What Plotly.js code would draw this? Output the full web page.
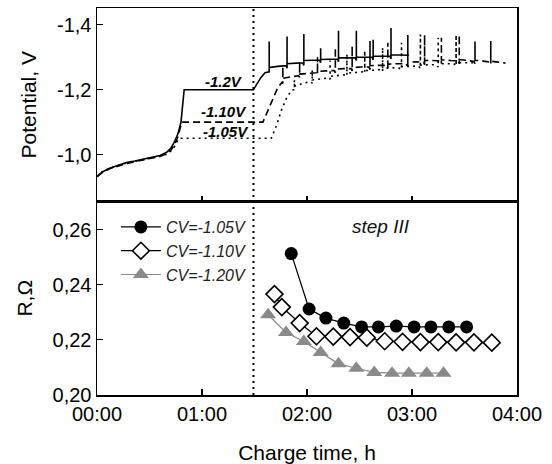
<!DOCTYPE html>
<html>
<head>
<meta charset="utf-8">
<script src="https://cdn.plot.ly/plotly-3.0.1.min.js"></script>
<style>html,body{margin:0;padding:0;background:#fff;}#chart{width:552px;height:464px;}</style>
</head>
<body>
<div id="chart"></div>
<script>
// ---- Top panel: potential (V) vs charge time (h) ----
const potT_120 = [0,0.05,0.12,0.2,0.28,0.36,0.44,0.52,0.6,0.66,0.7,0.73,0.77,0.8,0.815,0.83,1.49,1.52,1.56,1.6,
  1.64,1.64,1.64,1.72,1.8, 1.81,1.81,1.81,1.9,1.96, 1.97,1.97,1.97,2.06,2.12, 2.13,2.13,2.13,2.22,2.29,
  2.3,2.3,2.3,2.39,2.46, 2.47,2.47,2.47,2.56,2.62, 2.63,2.63,2.63,2.72,2.79, 2.8,2.8,2.8,2.88,2.97];
const potV_120 = [-0.932,-0.946,-0.958,-0.967,-0.975,-0.98,-0.985,-0.99,-0.997,-1.006,-1.018,-1.034,-1.063,-1.1,-1.15,-1.2,-1.2,-1.215,-1.237,-1.252,
  -1.255,-1.349,-1.268,-1.272,-1.274, -1.266,-1.364,-1.28,-1.282,-1.283, -1.275,-1.372,-1.29,-1.291,-1.291, -1.283,-1.328,-1.293,-1.294,-1.294,
  -1.286,-1.382,-1.298,-1.298,-1.298, -1.29,-1.382,-1.3,-1.3,-1.3, -1.292,-1.354,-1.303,-1.303,-1.303, -1.295,-1.39,-1.307,-1.307,-1.306];

const potT_110 = [0,0.05,0.12,0.2,0.28,0.36,0.44,0.52,0.6,0.66,0.7,0.74,0.77,0.795,0.81,1.58,1.63,1.68,1.72,1.76,
  1.77,1.77,1.77,1.85,1.92, 1.93,1.93,1.93,2.01,2.09, 2.1,2.1,2.1,2.18,2.26, 2.27,2.27,2.27,2.35,2.42,
  2.43,2.43,2.43,2.51,2.59, 2.6,2.6,2.6,2.68,2.76, 2.77,2.77,2.77,2.85,2.94, 2.96,2.96,2.96,3.04,3.11,
  3.12,3.12,3.12,3.2,3.27, 3.28,3.28,3.28,3.37,3.44, 3.45,3.45,3.45,3.53,3.59, 3.6,3.6,3.6,3.68,3.74,
  3.75,3.75,3.75,3.82,3.89];
const potV_110 = [-0.932,-0.944,-0.956,-0.965,-0.972,-0.978,-0.983,-0.988,-0.994,-1.002,-1.012,-1.03,-1.055,-1.085,-1.1,-1.1,-1.135,-1.175,-1.205,-1.222,
  -1.22,-1.27,-1.235,-1.24,-1.243, -1.238,-1.285,-1.248,-1.25,-1.252, -1.245,-1.3,-1.256,-1.258,-1.259, -1.252,-1.33,-1.263,-1.265,-1.265,
  -1.258,-1.335,-1.268,-1.27,-1.27, -1.262,-1.35,-1.274,-1.275,-1.275, -1.267,-1.345,-1.279,-1.28,-1.28, -1.272,-1.369,-1.285,-1.286,-1.285,
  -1.277,-1.369,-1.29,-1.29,-1.288, -1.28,-1.36,-1.292,-1.29,-1.289, -1.28,-1.369,-1.293,-1.29,-1.287, -1.28,-1.349,-1.291,-1.288,-1.285,
  -1.278,-1.35,-1.288,-1.285,-1.282];

const potT_105 = [0,0.05,0.12,0.2,0.28,0.36,0.44,0.52,0.6,0.66,0.7,0.74,0.77,0.785,1.66,1.71,1.76,1.81,1.86,
  1.88,1.88,1.88,1.95,2.03, 2.05,2.05,2.05,2.13,2.2, 2.22,2.22,2.22,2.3,2.37, 2.38,2.38,2.38,2.46,2.53,
  2.55,2.55,2.55,2.63,2.7, 2.72,2.72,2.72,2.8,2.87, 2.9,2.9,2.9,2.98,3.06, 3.08,3.08,3.08,3.16,3.23,
  3.25,3.25,3.25,3.33,3.4, 3.42,3.42,3.42,3.5,3.6];
const potV_105 = [-0.932,-0.946,-0.958,-0.966,-0.974,-0.979,-0.984,-0.989,-0.995,-1.0,-1.01,-1.025,-1.045,-1.05,-1.05,-1.09,-1.14,-1.178,-1.2,
  -1.2,-1.23,-1.21,-1.218,-1.225, -1.22,-1.26,-1.23,-1.233,-1.236, -1.232,-1.29,-1.241,-1.244,-1.246, -1.242,-1.31,-1.251,-1.253,-1.255,
  -1.25,-1.32,-1.259,-1.26,-1.262, -1.256,-1.33,-1.266,-1.267,-1.268, -1.262,-1.345,-1.271,-1.272,-1.273, -1.266,-1.37,-1.276,-1.277,-1.277,
  -1.27,-1.36,-1.28,-1.28,-1.28, -1.272,-1.369,-1.283,-1.283,-1.283];

// ---- Bottom panel: resistance (Ohm) vs charge time (h) ----
const resT_105 = [1.85,2.02,2.18,2.35,2.52,2.68,2.85,3.02,3.18,3.35,3.52];
const res_105  = [0.2513,0.2312,0.2279,0.2261,0.2247,0.2247,0.2250,0.2247,0.2247,0.2247,0.2247];
const resT_110 = [1.69,1.76,1.93,2.09,2.25,2.41,2.57,2.74,2.91,3.08,3.25,3.42,3.59,3.76];
const res_110  = [0.2366,0.2319,0.2261,0.2213,0.2212,0.2210,0.2208,0.2195,0.2193,0.2192,0.2192,0.2191,0.2191,0.2190];
const resT_120 = [1.63,1.80,1.97,2.13,2.30,2.47,2.64,2.81,2.97,3.14,3.30];
const res_120  = [0.2291,0.2227,0.2194,0.2154,0.2113,0.2097,0.2082,0.2079,0.2079,0.2079,0.2079];

const seriesNames = ['<i>CV=-1.05V</i>','<i>CV=-1.10V</i>','<i>CV=-1.20V</i>'];
const curveLabels = ['<b><i>-1.2V</i></b>','<b><i>-1.10V</i></b>','<b><i>-1.05V</i></b>'];

const xTickVals = [0,1,2,3,4];
const xTickText = ['00:00','01:00','02:00','03:00','04:00'];
const topTickVals = [-1.0,-1.2,-1.4];
const topTickText = ['-1,0','-1,2','-1,4'];
const botTickVals = [0.20,0.22,0.24,0.26];
const botTickText = ['0,20','0,22','0,24','0,26'];
const stepTime = 1.49;

const FONT = 'Liberation Sans, Arial, Helvetica, sans-serif';
const grey = '#8a8a8a';

const traces = [
  {x: potT_120, y: potV_120, xaxis:'x2', yaxis:'y2', mode:'lines', line:{color:'#000', width:1.6}, showlegend:false, hoverinfo:'skip'},
  {x: potT_110, y: potV_110, xaxis:'x2', yaxis:'y2', mode:'lines', line:{color:'#000', width:1.6, dash:'7px,4px'}, showlegend:false, hoverinfo:'skip'},
  {x: potT_105, y: potV_105, xaxis:'x2', yaxis:'y2', mode:'lines', line:{color:'#000', width:1.6, dash:'2px,4px'}, showlegend:false, hoverinfo:'skip'},
  {x: resT_105, y: res_105, xaxis:'x', yaxis:'y', mode:'lines+markers', name: seriesNames[0],
   line:{color:'#000', width:1.2}, marker:{symbol:'circle', size:13, color:'#000'}},
  {x: resT_110, y: res_110, xaxis:'x', yaxis:'y', mode:'lines+markers', name: seriesNames[1],
   line:{color:'#000', width:1.2}, marker:{symbol:'diamond', size:13, color:'#fff', line:{color:'#000', width:1.6}}},
  {x: resT_120, y: res_120, xaxis:'x', yaxis:'y', mode:'lines+markers', name: seriesNames[2],
   line:{color:grey, width:1.2}, marker:{symbol:'triangle-up', size:14, color:grey}}
];

const axCommon = {
  showline:true, linecolor:'#000', linewidth:1.5, mirror:true,
  ticks:'inside', ticklen:6, tickwidth:1.2, tickcolor:'#000',
  showgrid:false, zeroline:false,
  tickfont:{family:FONT, size:20, color:'#000'}
};

const layout = {
  width:552, height:464,
  margin:{l:97, r:35, t:8, b:69},
  paper_bgcolor:'#fff', plot_bgcolor:'#fff',
  font:{family:FONT, color:'#000'},
  showlegend:true,
  legend:{x:0.045, y:0.478, xref:'paper', yref:'paper', xanchor:'left', yanchor:'top',
          bgcolor:'rgba(0,0,0,0)', font:{family:FONT, size:16, color:'#222'}, tracegroupgap:0, itemwidth:40},
  xaxis: Object.assign({}, axCommon, {domain:[0,1], anchor:'y', range:[0,4], tickmode:'array', tickvals:xTickVals, ticktext:xTickText,
          title:{text:'Charge time, h', font:{family:FONT, size:21, color:'#000'}, standoff:24}}),
  yaxis: Object.assign({}, axCommon, {domain:[0,0.5], anchor:'x', range:[0.2,0.2702], tickmode:'array', tickvals:botTickVals, ticktext:botTickText,
          title:{text:'R,Ω', font:{family:FONT, size:21, color:'#000'}, standoff:14}}),
  xaxis2: Object.assign({}, axCommon, {domain:[0,1], anchor:'y2', range:[0,4], matches:'x', tickmode:'array', tickvals:xTickVals, showticklabels:false}),
  yaxis2: Object.assign({}, axCommon, {domain:[0.5,1], anchor:'x2', range:[-0.855,-1.452], tickmode:'array', tickvals:topTickVals, ticktext:topTickText,
          title:{text:'Potential, V', font:{family:FONT, size:21, color:'#000'}, standoff:14}}),
  shapes:[{type:'line', xref:'x', yref:'paper', x0:stepTime, x1:stepTime, y0:0, y1:1,
           line:{color:'#000', width:2, dash:'2px,4px'}}],
  annotations:[
    {xref:'x2', yref:'y2', x:1.21, y:-1.224, text:curveLabels[0], showarrow:false, font:{family:FONT, size:15, color:'#000'}},
    {xref:'x2', yref:'y2', x:1.21, y:-1.132, text:curveLabels[1], showarrow:false, font:{family:FONT, size:15, color:'#000'}},
    {xref:'x2', yref:'y2', x:1.23, y:-1.071, text:curveLabels[2], showarrow:false, font:{family:FONT, size:15, color:'#000'}},
    {xref:'x', yref:'y', x:2.70, y:0.2611, text:'<i>step III</i>', showarrow:false, font:{family:FONT, size:19, color:'#111'}}
  ]
};

Plotly.newPlot('chart', traces, layout, {displayModeBar:false, staticPlot:true});
</script>
</body>
</html>
